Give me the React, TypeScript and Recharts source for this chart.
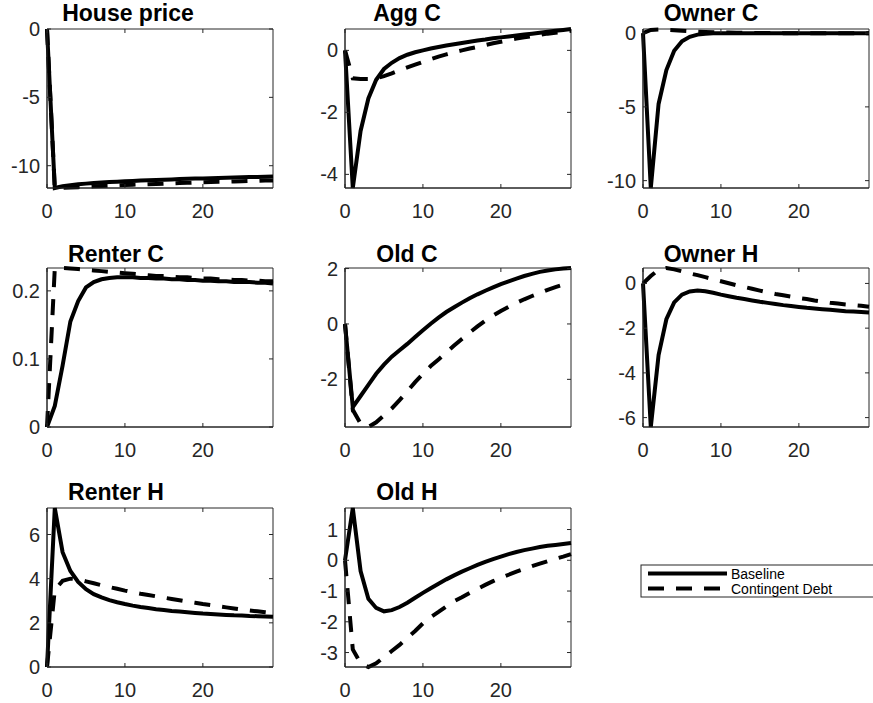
import React from 'react';
import { LineChart, Line, XAxis, YAxis, ReferenceArea } from 'recharts';

// periods 0..29
const periods = [0, 1, 2, 3, 4, 5, 6, 7, 8, 9, 10, 11, 12, 13, 14, 15, 16, 17, 18, 19, 20, 21, 22, 23, 24, 25, 26, 27, 28, 29];
const xTicks = [0, 10, 20];

const housePriceBase = [0, -11.63, -11.5, -11.42, -11.36, -11.31, -11.27, -11.23, -11.2, -11.17, -11.14, -11.12, -11.09, -11.07, -11.04, -11.02, -11.0, -10.98, -10.96, -10.94, -10.93, -10.91, -10.89, -10.88, -10.86, -10.85, -10.83, -10.82, -10.8, -10.78];
const housePriceCont = [0, -11.63, -11.62, -11.6, -11.57, -11.54, -11.51, -11.48, -11.46, -11.43, -11.41, -11.39, -11.37, -11.35, -11.33, -11.31, -11.29, -11.27, -11.25, -11.23, -11.21, -11.2, -11.18, -11.17, -11.15, -11.14, -11.12, -11.11, -11.09, -11.08];

const aggCBase = [0, -4.44, -2.6, -1.55, -0.95, -0.6, -0.4, -0.25, -0.14, -0.06, 0.0, 0.06, 0.11, 0.16, 0.2, 0.24, 0.28, 0.32, 0.35, 0.39, 0.42, 0.45, 0.48, 0.51, 0.54, 0.57, 0.6, 0.63, 0.66, 0.69];
const aggCCont = [0, -0.9, -0.92, -0.92, -0.9, -0.83, -0.74, -0.64, -0.55, -0.46, -0.37, -0.28, -0.2, -0.13, -0.06, 0.0, 0.06, 0.11, 0.17, 0.23, 0.28, 0.33, 0.38, 0.42, 0.46, 0.5, 0.54, 0.57, 0.6, 0.63];

const ownerCBase = [0, -10.5, -4.8, -2.5, -1.2, -0.55, -0.25, -0.1, -0.04, -0.01, 0, 0, 0, 0, 0, 0, 0, 0, 0, 0, 0, 0, 0, 0, 0, 0, 0, 0, 0, 0];
const ownerCCont = [0, 0.22, 0.24, 0.22, 0.19, 0.16, 0.13, 0.1, 0.08, 0.06, 0.05, 0.04, 0.03, 0.02, 0.02, 0.01, 0.01, 0.01, 0, 0, 0, 0, 0, 0, 0, 0, 0, 0, 0, 0];

const renterCBase = [0, 0.031, 0.09, 0.155, 0.185, 0.205, 0.213, 0.217, 0.219, 0.22, 0.22, 0.22, 0.219, 0.219, 0.218, 0.218, 0.217, 0.217, 0.216, 0.216, 0.215, 0.215, 0.214, 0.214, 0.213, 0.213, 0.213, 0.212, 0.212, 0.211];
const renterCCont = [0, 0.233, 0.2336, 0.233, 0.232, 0.231, 0.23, 0.229, 0.228, 0.227, 0.226, 0.225, 0.224, 0.223, 0.222, 0.222, 0.221, 0.22, 0.22, 0.219, 0.218, 0.218, 0.217, 0.217, 0.216, 0.216, 0.215, 0.215, 0.214, 0.214];

const oldCBase = [0, -3.0, -2.6, -2.2, -1.8, -1.47, -1.18, -0.95, -0.72, -0.47, -0.23, 0.01, 0.23, 0.43, 0.6, 0.77, 0.93, 1.07, 1.2, 1.32, 1.44, 1.54, 1.64, 1.73, 1.81, 1.88, 1.93, 1.97, 2.0, 2.02];
const oldCCont = [0, -3.1, -3.6, -3.72, -3.55, -3.3, -3.05, -2.75, -2.43, -2.1, -1.8, -1.52, -1.28, -1.03, -0.78, -0.54, -0.31, -0.09, 0.12, 0.3, 0.47, 0.62, 0.76, 0.89, 1.01, 1.12, 1.23, 1.33, 1.42, 1.5];

const ownerHBase = [0, -6.42, -3.2, -1.6, -0.85, -0.5, -0.36, -0.32, -0.35, -0.42, -0.5, -0.57, -0.64, -0.7, -0.76, -0.82, -0.87, -0.92, -0.97, -1.01, -1.05, -1.09, -1.12, -1.15, -1.18, -1.21, -1.24, -1.26, -1.28, -1.3];
const ownerHCont = [0, 0.33, 0.62, 0.69, 0.63, 0.54, 0.45, 0.37, 0.28, 0.19, 0.1, 0.01, -0.08, -0.16, -0.24, -0.32, -0.4, -0.47, -0.53, -0.59, -0.65, -0.7, -0.76, -0.81, -0.86, -0.9, -0.94, -0.97, -1.0, -1.04];

const renterHBase = [0, 7.2, 5.2, 4.35, 3.85, 3.52, 3.3, 3.15, 3.03, 2.93, 2.85, 2.78, 2.72, 2.67, 2.62, 2.58, 2.54, 2.51, 2.48, 2.45, 2.42, 2.4, 2.38, 2.36, 2.34, 2.33, 2.31, 2.3, 2.29, 2.28];
const renterHCont = [0, 3.5, 3.9, 4.0, 3.97, 3.88, 3.79, 3.7, 3.62, 3.54, 3.46, 3.39, 3.32, 3.26, 3.2, 3.14, 3.08, 3.02, 2.96, 2.91, 2.85, 2.8, 2.75, 2.7, 2.65, 2.6, 2.56, 2.52, 2.48, 2.44];

const oldHBase = [0, 1.7, -0.35, -1.25, -1.55, -1.66, -1.62, -1.52, -1.38, -1.22, -1.06, -0.91, -0.76, -0.62, -0.49, -0.37, -0.26, -0.15, -0.05, 0.04, 0.12, 0.2, 0.27, 0.33, 0.38, 0.43, 0.47, 0.5, 0.53, 0.56];
const oldHCont = [0, -2.9, -3.35, -3.47, -3.35, -3.15, -2.95, -2.75, -2.52, -2.3, -2.05, -1.85, -1.68, -1.5, -1.33, -1.2, -1.06, -0.93, -0.8, -0.68, -0.57, -0.47, -0.37, -0.28, -0.19, -0.11, -0.03, 0.05, 0.12, 0.2];

const legendLabels = ['Baseline', 'Contingent Debt'];

const PW = 226;
const PH = 159;
const AX = '#262626';
const FONT = '"Liberation Sans", Arial, sans-serif';
const DASH = '16 12';

type Panel = {
  title: string;
  base: number[];
  cont: number[];
  domain: [number, number];
  yTicks: number[];
  left: number;
  top: number;
  titleX: number;
  titleY: number;
};

const panels: Panel[] = [
  { title: 'House price', base: housePriceBase, cont: housePriceCont, domain: [-11.63, 0], yTicks: [-10, -5, 0], left: 47, top: 29, titleX: 128, titleY: 21 },
  { title: 'Agg C', base: aggCBase, cont: aggCCont, domain: [-4.44, 0.69], yTicks: [-4, -2, 0], left: 345, top: 29, titleX: 407, titleY: 21 },
  { title: 'Owner C', base: ownerCBase, cont: ownerCCont, domain: [-10.5, 0.28], yTicks: [-10, -5, 0], left: 643, top: 29, titleX: 711, titleY: 21 },
  { title: 'Renter C', base: renterCBase, cont: renterCCont, domain: [0, 0.2336], yTicks: [0, 0.1, 0.2], left: 47, top: 268, titleX: 116, titleY: 262 },
  { title: 'Old C', base: oldCBase, cont: oldCCont, domain: [-3.72, 2.02], yTicks: [-2, 0, 2], left: 345, top: 268, titleX: 407, titleY: 262 },
  { title: 'Owner H', base: ownerHBase, cont: ownerHCont, domain: [-6.42, 0.69], yTicks: [-6, -4, -2, 0], left: 643, top: 268, titleX: 711, titleY: 262 },
  { title: 'Renter H', base: renterHBase, cont: renterHCont, domain: [0, 7.2], yTicks: [0, 2, 4, 6], left: 47, top: 508, titleX: 116, titleY: 500 },
  { title: 'Old H', base: oldHBase, cont: oldHCont, domain: [-3.47, 1.7], yTicks: [-3, -2, -1, 0, 1], left: 345, top: 508, titleX: 407, titleY: 500 },
];

const XTick = (props: any) => {
  const { x, y, payload } = props;
  return (
    <g>
      <line x1={x} y1={y} x2={x} y2={y - 4} stroke={AX} strokeWidth={1} />
      <line x1={x} y1={y - PH} x2={x} y2={y - PH + 4} stroke={AX} strokeWidth={1} />
      <text x={x} y={y + 30} textAnchor="middle" fontSize={20} fill={AX} fontFamily={FONT}>
        {payload.value}
      </text>
    </g>
  );
};

const YTick = (props: any) => {
  const { x, y, payload } = props;
  return (
    <g>
      <line x1={x} y1={y} x2={x + 4} y2={y} stroke={AX} strokeWidth={1} />
      <line x1={x + PW} y1={y} x2={x + PW - 4} y2={y} stroke={AX} strokeWidth={1} />
      <text x={x - 7} y={y + 7} textAnchor="end" fontSize={20} fill={AX} fontFamily={FONT}>
        {payload.value}
      </text>
    </g>
  );
};

const IrfPanel = ({ p }: { p: Panel }) => {
  const data = periods.map((t, i) => ({ t, base: p.base[i], cont: p.cont[i] }));
  return (
    <div style={{ position: 'absolute', left: p.left - 60, top: p.top - 10 }}>
      <LineChart width={PW + 70} height={PH + 50} data={data} margin={{ top: 10, right: 10, left: 0, bottom: 0 }}>
        <XAxis
          dataKey="t"
          type="number"
          domain={[0, 29]}
          ticks={xTicks}
          height={40}
          tickSize={0}
          tickMargin={0}
          tick={<XTick />}
          axisLine={{ stroke: AX }}
          tickLine={false}
        />
        <YAxis
          type="number"
          domain={p.domain}
          ticks={p.yTicks}
          width={60}
          tickSize={0}
          tickMargin={0}
          tick={<YTick />}
          axisLine={{ stroke: AX }}
          tickLine={false}
        />
        <ReferenceArea x1={0} x2={29} y1={p.domain[0]} y2={p.domain[1]} fill="none" stroke={AX} strokeWidth={1} />
        <Line dataKey="cont" stroke="#000" strokeWidth={4} strokeDasharray={DASH} dot={false} isAnimationActive={false} />
        <Line dataKey="base" stroke="#000" strokeWidth={4} dot={false} isAnimationActive={false} />
      </LineChart>
    </div>
  );
};

export default function App() {
  return (
    <div style={{ position: 'absolute', left: 0, top: 0, width: 873, height: 703, background: '#fff', overflow: 'hidden' }}>
      {panels.map((p) => (
        <IrfPanel key={p.title} p={p} />
      ))}
      <svg width={873} height={703} style={{ position: 'absolute', left: 0, top: 0, pointerEvents: 'none' }}>
        {panels.map((p) => (
          <text key={p.title} x={p.titleX} y={p.titleY} textAnchor="middle" fontSize={23} fontWeight="bold" fill="#000" fontFamily={FONT}>
            {p.title}
          </text>
        ))}
        <rect x={641} y={565} width={240} height={32} fill="#fff" stroke={AX} strokeWidth={1} />
        <line x1={648} y1={573.5} x2={727} y2={573.5} stroke="#000" strokeWidth={4} />
        <line x1={648} y1={588.5} x2={728} y2={588.5} stroke="#000" strokeWidth={4} strokeDasharray={DASH} />
        <text x={731} y={578.5} fontSize={14} fill="#000" fontFamily={FONT}>{legendLabels[0]}</text>
        <text x={731} y={594} fontSize={14} fill="#000" fontFamily={FONT}>{legendLabels[1]}</text>
      </svg>
    </div>
  );
}
